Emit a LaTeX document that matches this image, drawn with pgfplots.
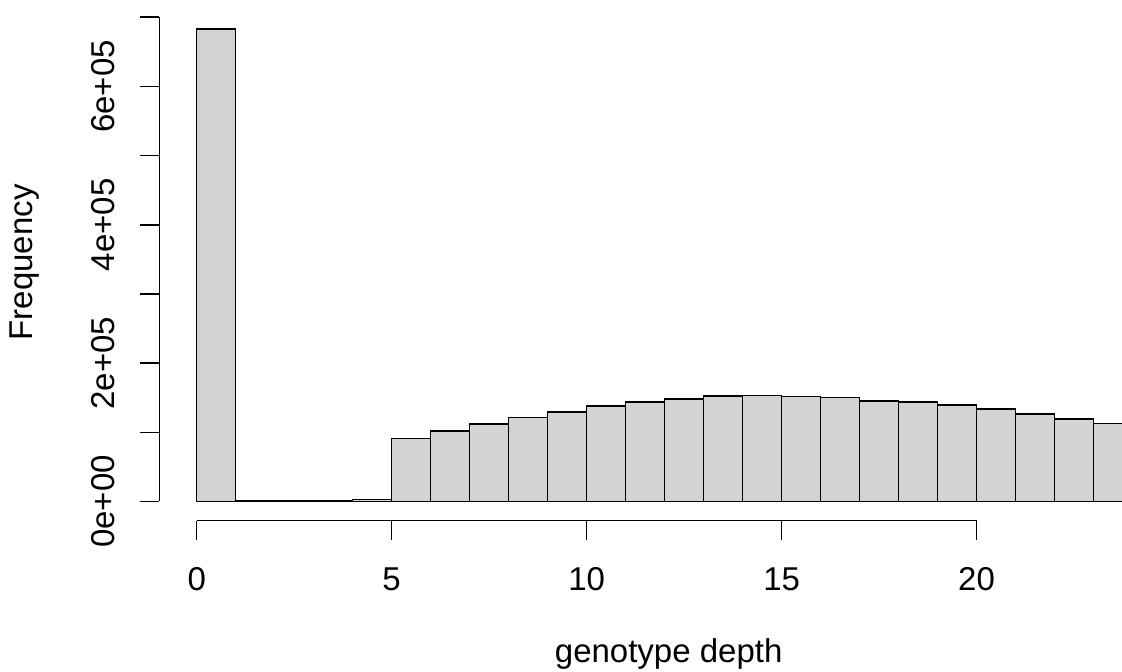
\documentclass[border=0pt]{standalone}
\usepackage{fontspec}
\setmainfont{Liberation Sans}
\usepackage{pgfplots}
\pgfplotsset{compat=1.18}
\definecolor{rgray}{RGB}{211,211,211}
\begin{document}
\begin{tikzpicture}[font=\fontsize{16.5}{19.8}\selectfont]
\begin{axis}[
  scale only axis,
  width=481.25pt, height=260.35pt,
  xmin=-0.954, xmax=23.73,
  ymin=-27760, ymax=725000,
  clip mode=individual,
  axis line style={draw=none},
  tick align=outside,
  xtick pos=bottom, ytick pos=left,
  major tick length=9.75pt,
  tick style={black, line width=0.8pt},
  xtick={0,5,10,15,20},
  xticklabels={0,5,10,15,20},
  ytick={0,100000,200000,300000,400000,500000,600000,700000},
  yticklabels={0e+00,,2e+05,,4e+05,,6e+05,},
  scaled y ticks=false,
  xticklabel style={anchor=base, inner sep=0pt},
  yticklabel style={rotate=90, anchor=base, inner sep=0pt},
  xticklabel shift=25.35pt,
  yticklabel shift=12.5pt,
  xlabel={genotype depth},
  ylabel={Frequency},
  every axis x label/.style={at={(rel axis cs:0.529,0)}, yshift=-71.15pt, anchor=base, inner sep=0pt},
  every axis y label/.style={at={(rel axis cs:0,0.496)}, xshift=-63.25pt, rotate=90, anchor=base, inner sep=0pt},
]
% histogram counts per unit depth bin
\addplot[ybar interval, fill=rgray, draw=black, line width=0.8pt] coordinates {
  (0,682700) (1,300) (2,700) (3,1200) (4,2800)
  (5,90800) (6,101500) (7,112000) (8,121700) (9,129800)
  (10,138100) (11,143400) (12,147800) (13,152100) (14,153000)
  (15,151500) (16,150100) (17,145700) (18,143400) (19,139100)
  (20,133300) (21,126900) (22,119300) (23,112500) (24,0)
};
\draw[line width=0.8pt] (axis cs:0,-27760) -- (axis cs:20,-27760);
\draw[line width=0.8pt] (axis cs:-0.954,0) -- (axis cs:-0.954,700000);
\end{axis}
\pgfresetboundingbox
\useasboundingbox (-79.75pt,-75.65pt) rectangle (481.25pt,260.35pt);
\end{tikzpicture}
\end{document}
